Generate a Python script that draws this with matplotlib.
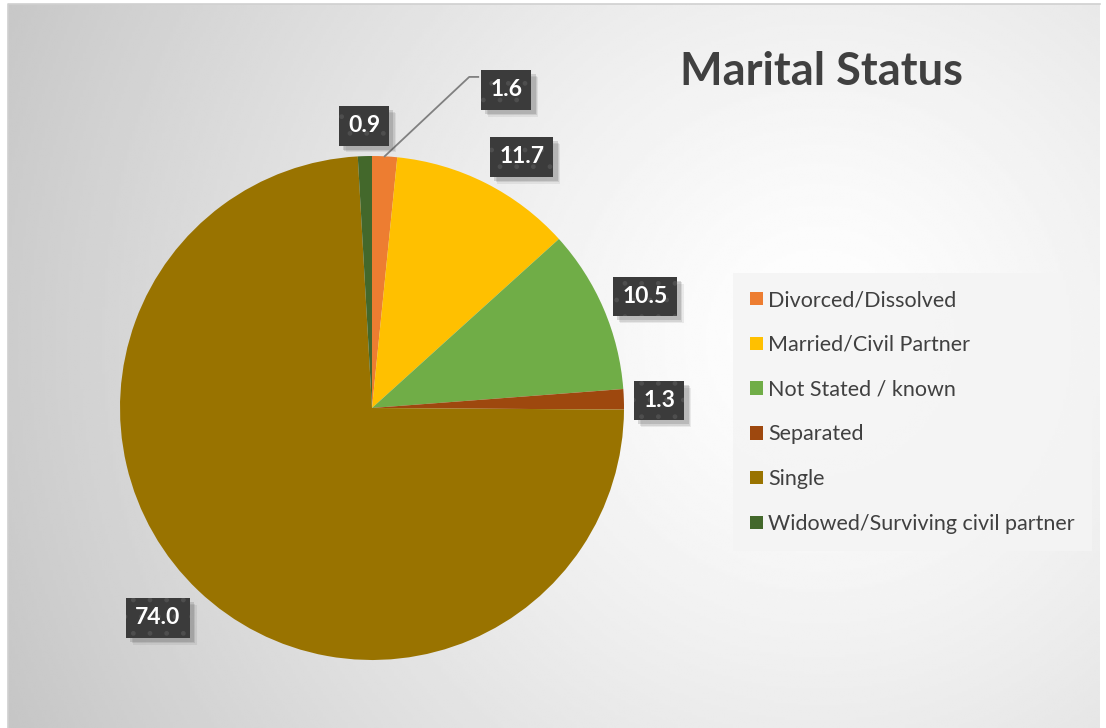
import numpy as np
import matplotlib.pyplot as plt
from matplotlib import patheffects

categories = ["Divorced/Dissolved", "Married/Civil Partner", "Not Stated / known",
              "Separated", "Single", "Widowed/Surviving civil partner"]
values = [1.6, 11.7, 10.5, 1.3, 74.0, 0.9]
colors = ["#ED7D31", "#FFC000", "#70AD47", "#9E480E", "#997300", "#43682B"]
title = "Marital Status"

W, H = 1106, 728
plt.rcParams['font.family'] = ['Lato', 'DejaVu Sans']


class SoftShadow(patheffects.AbstractPathEffect):
    # plain shadow under a patch, without its hatch
    def __init__(self, offset=(3, -3), color="#555555", alpha=0.2):
        super().__init__(offset)
        self.color = color
        self.alpha = alpha

    def draw_path(self, renderer, gc, tpath, affine, rgbFace=None):
        gc0 = renderer.new_gc()
        gc0.copy_properties(gc)
        gc0.set_hatch(None)
        gc0.set_linewidth(0)
        gc0.set_alpha(self.alpha)
        import matplotlib.colors as mcolors
        renderer.draw_path(gc0, tpath, affine + self._offset_transform(renderer),
                           mcolors.to_rgb(self.color))
        gc0.restore()


fig = plt.figure(figsize=(W / 100, H / 100), dpi=100)
fig.patch.set_facecolor("white")

# radial gradient background of the chart area
bg = fig.add_axes([0, 0, 1, 1], zorder=0)
xx, yy = np.meshgrid(np.linspace(8, 1100, 400), np.linspace(4, 728, 300))
d = np.sqrt((xx - 820) ** 2 + (yy - 340) ** 2) / 820
shade = 1 - 0.2 * np.clip(d, 0, 1.2) ** 1.3
bg.imshow(shade, cmap="gray", vmin=0, vmax=1, extent=(8, 1100, H - 728, H - 4),
          origin="upper", aspect="auto", interpolation="bilinear")
bg.plot([8, 8, 1100], [0, H - 4, H - 4], color="#d0d0d0", lw=1.2)
bg.set_xlim(0, W)
bg.set_ylim(0, H)
bg.axis("off")

ax = fig.add_axes([0, 0, 1, 1], zorder=1)
ax.patch.set_alpha(0)
cx, cy, R = 372, H - 408, 252
wedges, _ = ax.pie(values, colors=colors, startangle=90, counterclock=False,
                   center=(cx, cy), radius=R, wedgeprops=dict(linewidth=0))
ax.set_xlim(0, W)
ax.set_ylim(0, H)
ax.set_aspect("equal")
ax.axis("off")

# label placement: (radius factor, extra angle in degrees)
label_place = [(1.37, -20), (1.16, -4), (1.17, -1), (1.14, -0.5), (1.19, -2), (1.12, 0)]
for w, v, (rf, da) in zip(wedges, values, label_place):
    mid = np.deg2rad((w.theta1 + w.theta2) / 2)
    ang = mid + np.deg2rad(da)
    tx, ty = cx + rf * R * np.cos(ang), cy + rf * R * np.sin(ang)
    t = ax.text(tx, ty, f"{v:.1f}", ha="center", va="center", color="white",
                fontsize=16.5, fontweight="bold", zorder=5,
                bbox=dict(boxstyle="square,pad=0.4", facecolor="#3b3b3b",
                          edgecolor="#4e4e4e", linewidth=0, hatch="."))
    t.get_bbox_patch().set_path_effects([
        SoftShadow((5, -5), alpha=0.10), SoftShadow((4, -4), alpha=0.14),
        SoftShadow((3, -3), alpha=0.2), patheffects.Normal()])
    if da != 0 and rf > 1.3:
        ex, ey = cx + R * np.cos(mid), cy + R * np.sin(mid)
        ax.plot([ex, tx - 37, tx - 28], [ey, ty + 13, ty + 13], color="#808080", lw=1.3, zorder=3)

fig.text(822 / W, 1 - 72 / H, title, ha="center", va="center", fontsize=32.5,
         fontweight="bold", color="#404040")

leg = ax.legend(wedges, categories, loc="upper left",
                bbox_to_anchor=(733 / W, 1 - 273 / H), bbox_transform=fig.transFigure,
                frameon=True, fancybox=False, fontsize=15.5, labelcolor="#404040",
                handlelength=0.6, handleheight=0.6, handletextpad=0.22,
                labelspacing=1.15, borderpad=0.8, borderaxespad=0)
leg.get_frame().set_facecolor("#f4f4f4")
leg.get_frame().set_alpha(0.85)
leg.get_frame().set_linewidth(0)

fig.savefig("out.png", dpi=100)
